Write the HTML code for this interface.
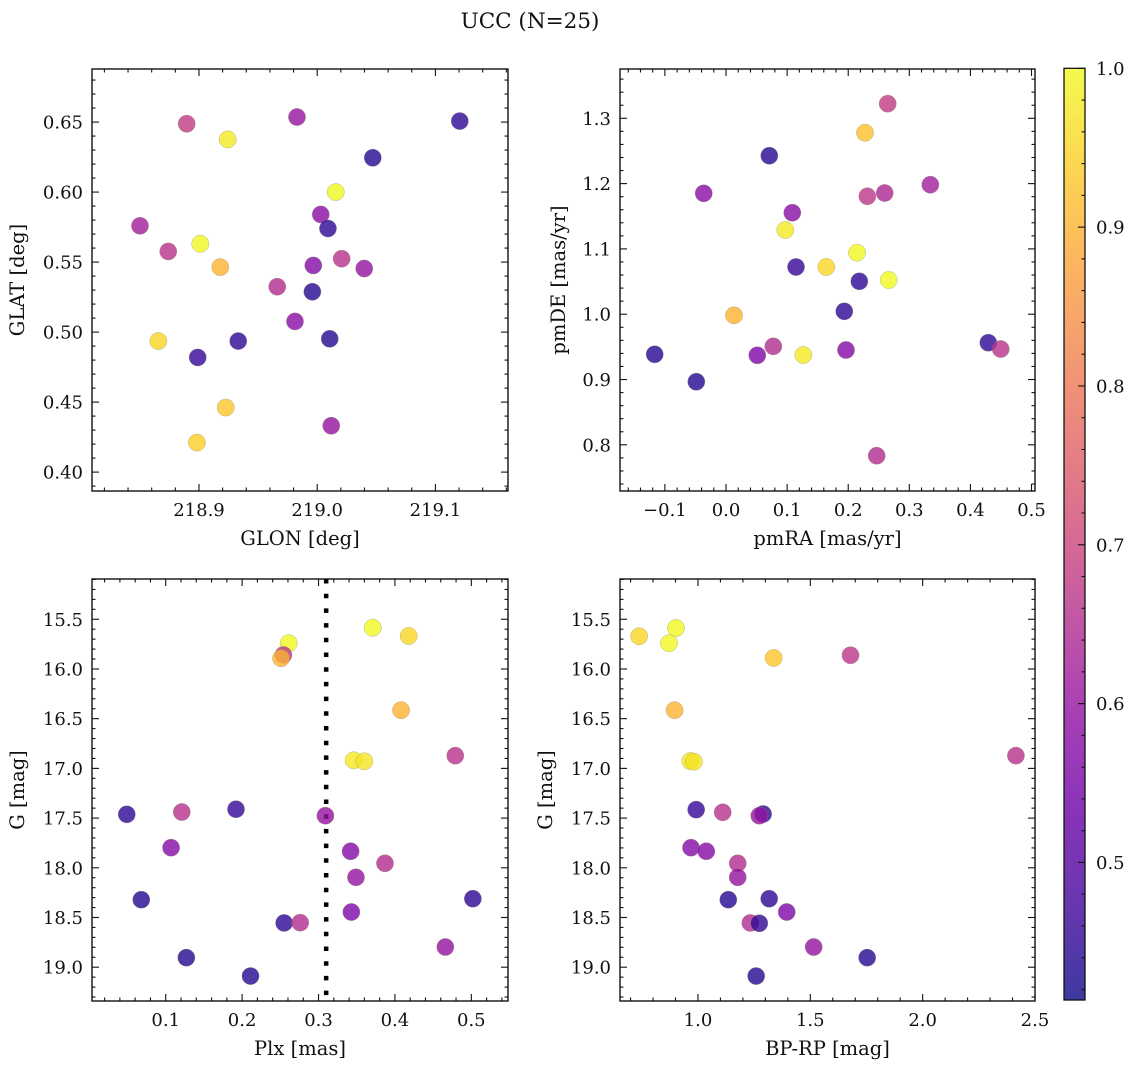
<!DOCTYPE html>
<html><head><meta charset="utf-8"><title>UCC (N=25)</title>
<style>
html,body{margin:0;padding:0;background:#fff;}
svg{display:block;font-family:"DejaVu Serif","Liberation Serif",serif;}
</style></head>
<body>
<svg id="fig" width="1136" height="1068" viewBox="0 0 1136 1068" xmlns="http://www.w3.org/2000/svg">
<text x="530" y="28" font-size="21.5" text-anchor="middle" fill="#111">UCC (N=25)</text>
</svg>
<script>
// ---- Data ----
const glon = [218.8896,218.9243,218.9829,219.1206,219.0470,219.0157,218.8501,219.0030,219.0091,218.8740,218.9011,218.9180,219.0207,218.9967,219.0398,218.9662,218.9959,218.9812,218.8656,218.9332,219.0106,218.8989,218.9226,219.0119,218.8983];
const glat = [0.6488,0.6376,0.6536,0.6507,0.6245,0.6000,0.5759,0.5840,0.5740,0.5576,0.5631,0.5464,0.5524,0.5476,0.5454,0.5324,0.5288,0.5076,0.4936,0.4936,0.4952,0.4819,0.4461,0.4331,0.4211];
const probP1 = [0.68,0.98,0.60,0.45,0.44,1.00,0.62,0.58,0.45,0.66,1.00,0.90,0.66,0.57,0.60,0.65,0.44,0.58,0.95,0.45,0.44,0.46,0.93,0.60,0.94];

const pmra = [0.2646,0.2275,0.0709,-0.0365,0.3344,0.2313,0.2597,0.1085,0.0971,0.2144,0.1146,0.1642,0.2182,0.2663,0.0131,0.1936,-0.1167,0.0512,0.0774,0.1265,0.1964,0.4293,0.4496,-0.0486,0.2466];
const pmde = [1.3224,1.2779,1.2427,1.1851,1.1983,1.1806,1.1856,1.1554,1.1289,1.0942,1.0723,1.0723,1.0504,1.0524,0.9983,1.0044,0.9386,0.9371,0.9508,0.9375,0.9452,0.9564,0.9467,0.8966,0.7833];
const probP2 = [0.68,0.92,0.44,0.58,0.62,0.67,0.64,0.58,0.98,1.00,0.46,0.95,0.45,1.00,0.90,0.45,0.44,0.56,0.65,0.98,0.57,0.45,0.66,0.44,0.65];

const plx = [0.371,0.418,0.261,0.254,0.251,0.408,0.346,0.360,0.479,0.049,0.121,0.192,0.309,0.107,0.342,0.387,0.349,0.068,0.502,0.343,0.255,0.276,0.466,0.127,0.211];
const gmagP3 = [15.585,15.668,15.741,15.859,15.892,16.415,16.919,16.929,16.872,17.462,17.439,17.411,17.476,17.798,17.834,17.955,18.096,18.321,18.311,18.445,18.555,18.552,18.797,18.904,19.089];
const probP3 = [1.00,0.95,1.00,0.67,0.90,0.90,0.98,0.97,0.66,0.45,0.66,0.46,0.60,0.57,0.57,0.65,0.60,0.44,0.45,0.56,0.45,0.65,0.60,0.44,0.44];
const plxLine = [0.31];

const bprp = [0.738,0.902,0.871,1.337,1.679,0.896,0.966,0.982,2.415,0.992,1.110,1.290,1.273,0.969,1.037,1.177,1.177,1.135,1.317,1.395,1.233,1.273,1.515,1.753,1.259];
const gmagP4 = [15.671,15.588,15.741,15.889,15.862,16.415,16.926,16.933,16.872,17.415,17.442,17.459,17.476,17.798,17.834,17.955,18.096,18.321,18.311,18.445,18.555,18.558,18.797,18.904,19.089];
const probP4 = [0.95,1.00,1.00,0.93,0.67,0.90,0.98,0.97,0.66,0.46,0.66,0.45,0.60,0.57,0.57,0.65,0.60,0.44,0.45,0.56,0.65,0.45,0.60,0.44,0.44];

const cbarTicks = [0.5,0.6,0.7,0.8,0.9,1.0];
const ticksGLON = [218.9,219.0,219.1];
const ticksGLAT = [0.40,0.45,0.50,0.55,0.60,0.65];
const ticksPMRA = [-0.1,0.0,0.1,0.2,0.3,0.4,0.5];
const ticksPMDE = [0.8,0.9,1.0,1.1,1.2,1.3];
const ticksPLX = [0.1,0.2,0.3,0.4,0.5];
const ticksBPRP = [1.0,1.5,2.0,2.5];
const ticksG = [15.5,16.0,16.5,17.0,17.5,18.0,18.5,19.0];

const VMIN = 0.4134, VMAX = 1.0;
// ---- end data ----

const NS = "http://www.w3.org/2000/svg";
const svg = document.getElementById('fig');
const TICKFS = 18, LABELFS = 19.5;
function mk(tag, attrs, parent){
  const e = document.createElementNS(NS, tag);
  for (const k in attrs) e.setAttribute(k, attrs[k]);
  (parent||svg).appendChild(e);
  return e;
}
const plasmaStops = [[13,8,135],[65,4,157],[106,0,168],[143,13,164],[177,42,144],[204,71,120],[225,100,98],[242,132,75],[252,166,54],[252,206,37],[240,249,33]];
function plasma(t){
  t = Math.max(0, Math.min(1, t));
  const f = t*10, i = Math.min(9, Math.floor(f)), u = f - i;
  const a = plasmaStops[i], b = plasmaStops[i+1];
  return 'rgb(' + [0,1,2].map(k => Math.round(a[k] + (b[k]-a[k])*u)).join(',') + ')';
}
function cmap(v){ return plasma((v - VMIN)/(VMAX - VMIN)); }

function fmt(v, d){ const s = v.toFixed(d); return s.replace('-', '\u2212'); }

function panel(cfg){
  const g = mk('g', {});
  
  
  const L=cfg.L, R=cfg.R, T=cfg.T, B=cfg.B;
  const sx = v => L + (v - cfg.x0)/(cfg.x1 - cfg.x0)*(R-L);
  const sy = v => T + (v - cfg.y0)/(cfg.y1 - cfg.y0)*(B-T);
  const tg = mk('g', {stroke:'#111','stroke-width':1.1}, g);
  
  
  const xlo = Math.min(cfg.x0,cfg.x1), xhi = Math.max(cfg.x0,cfg.x1);
  const ylo = Math.min(cfg.y0,cfg.y1), yhi = Math.max(cfg.y0,cfg.y1);
  function isMajor(v, arr){ return arr.some(m => Math.abs(m - v) < 1e-6); }
  for (let k = Math.ceil(xlo/cfg.xm - 1e-9); k*cfg.xm <= xhi + 1e-9; k++){
    const v = k*cfg.xm; if (isMajor(v, cfg.xt)) continue;
    const x = sx(v);
    mk('line',{x1:x,x2:x,y1:B,y2:B-3.5},tg); mk('line',{x1:x,x2:x,y1:T,y2:T+3.5},tg);
  }
  for (let k = Math.ceil(ylo/cfg.ym - 1e-9); k*cfg.ym <= yhi + 1e-9; k++){
    const v = k*cfg.ym; if (isMajor(v, cfg.yt)) continue;
    const y = sy(v);
    mk('line',{x1:L,x2:L+3.5,y1:y,y2:y},tg); mk('line',{x1:R,x2:R-3.5,y1:y,y2:y},tg);
  }
  cfg.xt.forEach(v => {
    const x = sx(v);
    mk('line',{x1:x,x2:x,y1:B,y2:B-7},tg); mk('line',{x1:x,x2:x,y1:T,y2:T+7},tg);
    const t = mk('text',{x:x,y:B+25,'font-size':TICKFS,'text-anchor':'middle',fill:'#111',stroke:'none'},g);
    
    
    t.textContent = fmt(v, cfg.xd);
  });
  cfg.yt.forEach(v => {
    const y = sy(v);
    mk('line',{x1:L,x2:L+7,y1:y,y2:y},tg); mk('line',{x1:R,x2:R-7,y1:y,y2:y},tg);
    const t = mk('text',{x:L-9,y:y+6.5,'font-size':TICKFS,'text-anchor':'end',fill:'#111',stroke:'none'},g);
    
    
    t.textContent = fmt(v, cfg.yd);
  });
  if (cfg.vlines) cfg.vlines.forEach(v => {
    const ln = mk('line',{x1:sx(v),x2:sx(v),y1:T,y2:B,stroke:'#000','stroke-width':4.5,'stroke-dasharray':'4.5 10.2'},g);
    
    
  });
  const pg = mk('g', {}, g);
  
  
  cfg.xs.forEach((xv, i) => {
    const c = mk('circle',{cx:sx(xv),cy:sy(cfg.ys[i]),r:8.6,fill:cmap(cfg.cs[i]),'fill-opacity':0.8,stroke:'#8a8a6a','stroke-opacity':0.6,'stroke-width':0.5},pg);
    
    
  });
  const fr = mk('rect',{x:L,y:T,width:R-L,height:B-T,fill:'none',stroke:'#111','stroke-width':1.4},g);
  
  
  const xl = mk('text',{x:(L+R)/2,y:B+54,'font-size':LABELFS,'text-anchor':'middle',fill:'#111'},g);
  
  
  xl.textContent = cfg.xlabel;
  const yx = cfg.ylx, yy = (T+B)/2;
  const yl = mk('text',{x:yx,y:yy,'font-size':LABELFS,'text-anchor':'middle',fill:'#111',transform:'rotate(-90 '+yx+' '+yy+')'},g);
  
  
  yl.textContent = cfg.ylabel;
}

panel({name:'glon-glat-panel',L:92,R:508,T:69,B:491,x0:218.8095,x1:219.1614,y0:0.6879,y1:0.3865,
  xt:ticksGLON,xm:0.02,xd:1,yt:ticksGLAT,ym:0.01,yd:2,xs:glon,ys:glat,cs:probP1,
  xlabel:'GLON [deg]',ylabel:'GLAT [deg]',ylx:24});
panel({name:'pm-panel',L:620,R:1035,T:69,B:491,x0:-0.1735,x1:0.5057,y0:1.3755,y1:0.7293,
  xt:ticksPMRA,xm:0.02,xd:1,yt:ticksPMDE,ym:0.02,yd:1,xs:pmra,ys:pmde,cs:probP2,
  xlabel:'pmRA [mas/yr]',ylabel:'pmDE [mas/yr]',ylx:565});
panel({name:'plx-g-panel',L:92,R:508,T:579,B:1001,x0:0.0035,x1:0.5480,y0:15.095,y1:19.340,
  xt:ticksPLX,xm:0.02,xd:1,yt:ticksG,ym:0.1,yd:1,xs:plx,ys:gmagP3,cs:probP3,vlines:plxLine,
  xlabel:'Plx [mas]',ylabel:'G [mag]',ylx:24});
panel({name:'cmd-panel',L:620,R:1035,T:579,B:1001,x0:0.653,x1:2.5,y0:15.095,y1:19.340,
  xt:ticksBPRP,xm:0.1,xd:1,yt:ticksG,ym:0.1,yd:1,xs:bprp,ys:gmagP4,cs:probP4,
  xlabel:'BP-RP [mag]',ylabel:'G [mag]',ylx:552});

(function(){
  const L=1064,R=1085,T=68.3,B=1000;
  const cb = mk('g',{});
  
  
  const defs = mk('defs',{},cb);
  const grad = mk('linearGradient',{id:'pg',x1:0,y1:1,x2:0,y2:0},defs);
  for (let i=0;i<=20;i++){ mk('stop',{offset:(i/20),'stop-color':plasma(i/20)},grad); }
  const r = mk('rect',{x:L,y:T,width:R-L,height:B-T,fill:'url(#pg)','fill-opacity':0.8},cb);
  
  
  const sy = v => B - (v - VMIN)/(VMAX - VMIN)*(B-T);
  for (let k=Math.ceil(VMIN/0.02); k*0.02<=VMAX+1e-9; k++){
    const v=k*0.02; if (cbarTicks.some(m=>Math.abs(m-v)<1e-6)) continue;
    mk('line',{x1:R,x2:R-3.5,y1:sy(v),y2:sy(v),stroke:'#111','stroke-width':1.1},cb);
  }
  cbarTicks.forEach(v=>{
    mk('line',{x1:R,x2:R-7,y1:sy(v),y2:sy(v),stroke:'#111','stroke-width':1.1},cb);
    const t = mk('text',{x:R+11,y:sy(v)+6.5,'font-size':TICKFS,fill:'#111'},cb);
    
    
    t.textContent = v.toFixed(1);
  });
  const fr = mk('rect',{x:L,y:T,width:R-L,height:B-T,fill:'none',stroke:'#111','stroke-width':1.3},cb);
  
  
})();
</script>
</body></html>
